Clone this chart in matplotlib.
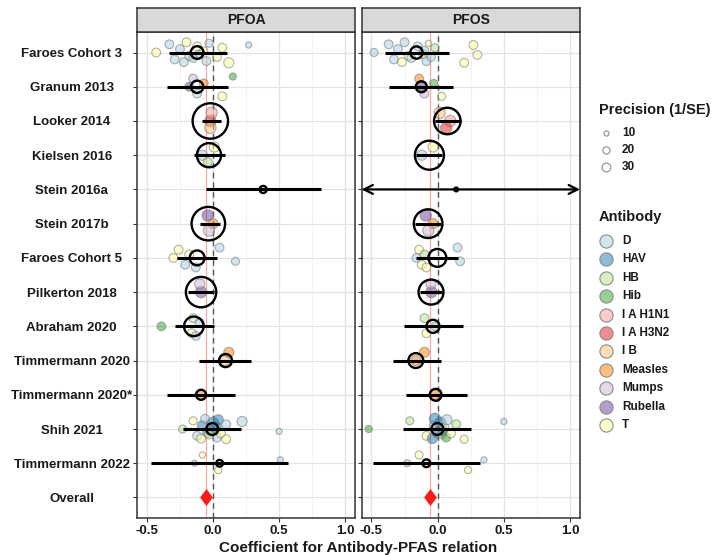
import matplotlib
matplotlib.use("Agg")
import matplotlib.pyplot as plt
from matplotlib.colors import to_rgba

plt.rcParams["font.family"] = ["Liberation Sans", "DejaVu Sans"]
plt.rcParams["font.weight"] = "bold"
plt.rcParams["axes.unicode_minus"] = False

# ---- data -----------------------------------------------------------------
studies = ["Faroes Cohort 3", "Granum 2013", "Looker 2014", "Kielsen 2016",
           "Stein 2016a", "Stein 2017b", "Faroes Cohort 5", "Pilkerton 2018",
           "Abraham 2020", "Timmermann 2020", "Timmermann 2020*", "Shih 2021",
           "Timmermann 2022"]
row_labels = studies + ["Overall"]

antibodies = ["D", "HAV", "HB", "Hib", "I A H1N1", "I A H3N2", "I B",
              "Measles", "Mumps", "Rubella", "T"]
antibody_colors = ["#A6CEE3", "#1F78B4", "#B2DF8A", "#33A02C", "#FB9A99",
                   "#E31A1C", "#FDBF6F", "#FF7F00", "#CAB2D6", "#6A3D9A",
                   "#FFFF99"]
precision_breaks = [10, 20, 30]

# study-level estimates (pooled over antibodies)
pfoa_est = [-0.12, -0.12, -0.02, -0.03, 0.38, -0.035, -0.12, -0.09, -0.145,
            0.095, -0.09, -0.005, 0.05]
pfoa_lo = [-0.335, -0.345, -0.08, -0.14, -0.05, -0.10, -0.275, -0.19, -0.285,
           -0.105, -0.35, -0.23, -0.47]
pfoa_hi = [0.105, 0.11, 0.06, 0.09, 0.82, 0.05, 0.03, 0.01, 0.005, 0.29, 0.17,
           0.21, 0.565]
pfoa_weight = [16, 15, 125, 58, 5, 112, 22, 92, 38, 17, 10, 14, 4.5]
pfoa_overall = -0.05

pfos_est = [-0.16, -0.123, 0.073, -0.062, 0.14, -0.072, -0.002, -0.05, -0.035,
            -0.165, -0.015, -0.002, -0.085]
pfos_lo = [-0.40, -0.368, -0.017, -0.16, -0.9, -0.17, -0.16, -0.13, -0.255,
           -0.34, -0.24, -0.26, -0.486]
pfos_hi = [0.083, 0.116, 0.173, 0.03, 1.3, 0.028, 0.153, 0.035, 0.19, 0.023,
           0.218, 0.253, 0.32]
pfos_weight = [15, 12, 70, 84, 1.4, 82, 32, 62, 17, 22, 14, 14, 6]
pfos_overall = -0.06

# antibody-level estimates: (study, antibody, coefficient, precision 1/SE)
pfoa_points = [
    ("Faroes Cohort 3", "T", -0.43, 30), ("Faroes Cohort 3", "D", -0.33, 30),
    ("Faroes Cohort 3", "D", -0.29, 30), ("Faroes Cohort 3", "D", -0.25, 30),
    ("Faroes Cohort 3", "D", -0.22, 30), ("Faroes Cohort 3", "T", -0.20, 30),
    ("Faroes Cohort 3", "D", -0.18, 30), ("Faroes Cohort 3", "D", -0.15, 30),
    ("Faroes Cohort 3", "T", -0.12, 30), ("Faroes Cohort 3", "D", -0.10, 30),
    ("Faroes Cohort 3", "T", -0.07, 25), ("Faroes Cohort 3", "D", -0.05, 30),
    ("Faroes Cohort 3", "D", -0.03, 25), ("Faroes Cohort 3", "T", 0.03, 30),
    ("Faroes Cohort 3", "T", 0.07, 30), ("Faroes Cohort 3", "T", 0.12, 40),
    ("Faroes Cohort 3", "D", 0.27, 15),
    ("Granum 2013", "Rubella", -0.18, 30), ("Granum 2013", "Mumps", -0.15, 30),
    ("Granum 2013", "D", -0.12, 30), ("Granum 2013", "Measles", -0.07, 30),
    ("Granum 2013", "T", 0.07, 30), ("Granum 2013", "Hib", 0.15, 20),
    ("Looker 2014", "I A H3N2", -0.02, 50), ("Looker 2014", "I A H1N1", -0.01, 50),
    ("Looker 2014", "I B", -0.02, 50),
    ("Kielsen 2016", "D", -0.08, 40), ("Kielsen 2016", "T", 0.01, 40),
    ("Kielsen 2016", "HB", -0.04, 30),
    ("Stein 2017b", "Measles", 0.0, 40), ("Stein 2017b", "Rubella", -0.04, 50),
    ("Stein 2017b", "Mumps", -0.03, 50),
    ("Faroes Cohort 5", "T", -0.30, 30), ("Faroes Cohort 5", "T", -0.26, 30),
    ("Faroes Cohort 5", "D", -0.21, 30), ("Faroes Cohort 5", "T", -0.18, 30),
    ("Faroes Cohort 5", "D", -0.13, 30), ("Faroes Cohort 5", "D", 0.05, 30),
    ("Faroes Cohort 5", "D", 0.17, 25),
    ("Pilkerton 2018", "Rubella", -0.09, 50), ("Pilkerton 2018", "Mumps", -0.10, 40),
    ("Abraham 2020", "Hib", -0.39, 30), ("Abraham 2020", "HB", -0.15, 30),
    ("Abraham 2020", "T", -0.16, 30), ("Abraham 2020", "D", -0.10, 30),
    ("Abraham 2020", "D", -0.13, 30),
    ("Timmermann 2020", "I B", 0.09, 40), ("Timmermann 2020", "Measles", 0.12, 40),
    ("Timmermann 2020*", "Measles", -0.09, 40),
    ("Shih 2021", "HB", -0.23, 25), ("Shih 2021", "T", -0.15, 25),
    ("Shih 2021", "D", -0.12, 30), ("Shih 2021", "HAV", -0.08, 40),
    ("Shih 2021", "T", -0.09, 30), ("Shih 2021", "D", -0.06, 30),
    ("Shih 2021", "HAV", -0.04, 40), ("Shih 2021", "T", -0.03, 30),
    ("Shih 2021", "HAV", 0.0, 50), ("Shih 2021", "HB", -0.02, 30),
    ("Shih 2021", "HAV", 0.02, 50), ("Shih 2021", "D", 0.03, 30),
    ("Shih 2021", "HAV", 0.04, 40), ("Shih 2021", "T", 0.06, 30),
    ("Shih 2021", "D", 0.10, 30), ("Shih 2021", "T", 0.10, 30),
    ("Shih 2021", "D", 0.22, 40), ("Shih 2021", "D", 0.50, 15),
    ("Timmermann 2022", "D", -0.14, 15), ("Timmermann 2022", "T", -0.08, 15),
    ("Timmermann 2022", "T", 0.04, 20), ("Timmermann 2022", "D", 0.51, 15),
]

pfos_points = [
    ("Faroes Cohort 3", "D", -0.48, 25), ("Faroes Cohort 3", "D", -0.37, 30),
    ("Faroes Cohort 3", "D", -0.33, 30), ("Faroes Cohort 3", "D", -0.30, 30),
    ("Faroes Cohort 3", "T", -0.27, 30), ("Faroes Cohort 3", "D", -0.25, 30),
    ("Faroes Cohort 3", "T", -0.22, 30), ("Faroes Cohort 3", "D", -0.20, 30),
    ("Faroes Cohort 3", "D", -0.15, 30), ("Faroes Cohort 3", "T", -0.11, 30),
    ("Faroes Cohort 3", "D", -0.10, 30), ("Faroes Cohort 3", "D", -0.085, 30),
    ("Faroes Cohort 3", "T", -0.07, 15), ("Faroes Cohort 3", "D", -0.05, 30),
    ("Faroes Cohort 3", "HB", -0.02, 25), ("Faroes Cohort 3", "T", 0.20, 30),
    ("Faroes Cohort 3", "T", 0.27, 30), ("Faroes Cohort 3", "T", 0.30, 30),
    ("Granum 2013", "Rubella", -0.12, 30), ("Granum 2013", "Measles", -0.14, 30),
    ("Granum 2013", "Mumps", -0.10, 30), ("Granum 2013", "Hib", -0.03, 25),
    ("Granum 2013", "T", 0.03, 25),
    ("Looker 2014", "I A H1N1", 0.095, 50), ("Looker 2014", "I B", 0.015, 50),
    ("Looker 2014", "I A H3N2", 0.065, 50),
    ("Kielsen 2016", "D", -0.12, 40), ("Kielsen 2016", "T", -0.035, 40),
    ("Stein 2017b", "Measles", -0.035, 40), ("Stein 2017b", "Rubella", -0.09, 50),
    ("Stein 2017b", "Mumps", -0.07, 50),
    ("Faroes Cohort 5", "D", -0.16, 30), ("Faroes Cohort 5", "T", -0.14, 30),
    ("Faroes Cohort 5", "T", -0.12, 30), ("Faroes Cohort 5", "HB", -0.10, 30),
    ("Faroes Cohort 5", "T", -0.085, 30), ("Faroes Cohort 5", "D", 0.15, 30),
    ("Faroes Cohort 5", "D", 0.17, 30),
    ("Pilkerton 2018", "Rubella", -0.047, 50), ("Pilkerton 2018", "Mumps", -0.05, 40),
    ("Abraham 2020", "D", -0.017, 30), ("Abraham 2020", "HB", -0.10, 30),
    ("Abraham 2020", "T", -0.085, 30),
    ("Timmermann 2020", "Measles", -0.165, 40), ("Timmermann 2020", "Measles", -0.10, 40),
    ("Timmermann 2020*", "Measles", -0.015, 40),
    ("Shih 2021", "Hib", -0.52, 20), ("Shih 2021", "HB", -0.21, 25),
    ("Shih 2021", "T", -0.085, 30), ("Shih 2021", "D", -0.03, 30),
    ("Shih 2021", "HAV", -0.04, 40), ("Shih 2021", "HAV", -0.02, 50),
    ("Shih 2021", "HAV", 0.0, 50), ("Shih 2021", "HB", 0.03, 30),
    ("Shih 2021", "HAV", 0.02, 50), ("Shih 2021", "HAV", 0.04, 40),
    ("Shih 2021", "T", 0.05, 30), ("Shih 2021", "Hib", 0.065, 30),
    ("Shih 2021", "D", 0.07, 40), ("Shih 2021", "T", 0.10, 30),
    ("Shih 2021", "HB", 0.14, 30), ("Shih 2021", "T", 0.20, 25),
    ("Shih 2021", "D", 0.50, 15),
    ("Timmermann 2022", "D", -0.23, 20), ("Timmermann 2022", "T", -0.14, 25),
    ("Timmermann 2022", "T", 0.23, 20), ("Timmermann 2022", "D", 0.35, 15),
]

# ---- styling helpers --------------------------------------------------------
W, H = 724, 555
XLIM = (-0.575, 1.075)
YLIM = (len(row_labels) - 0.4, -0.6)
JITTER = [0.0, -0.24, 0.2, -0.1, 0.28, -0.3, 0.1, 0.16, -0.18, 0.05, -0.05,
          0.25, -0.27, 0.13, -0.14, 0.3, -0.22, 0.07]
BORDER = "#333333"
TEXT = "#1a1a1a"
# tall diamond used for the pooled estimate
DIAMOND = [(0, 1), (0.75, 0), (0, -1), (-0.75, 0), (0, 1)]


def point_area(prec):
    # marker area (pt^2) proportional to precision
    return 1.33 * prec


def px_axes(fig, left, top, right, bottom):
    return fig.add_axes([left / W, 1 - bottom / H, (right - left) / W,
                         (bottom - top) / H])


def draw_panel(ax, est, lo, hi, weight, points, overall, show_labels):
    ax.set_xlim(*XLIM)
    ax.set_ylim(*YLIM)
    for v in [-0.5, 0.0, 0.5, 1.0]:
        ax.axvline(v, color="#E3E3E3", lw=0.9, zorder=0)
    for v in [-0.25, 0.25, 0.75]:
        ax.axvline(v, color="#F0F0F0", lw=0.6, zorder=0)
    for i in range(len(row_labels)):
        ax.axhline(i, color="#E3E3E3", lw=0.9, zorder=0)

    ax.axvline(overall, color=(1, 0, 0, 0.35), lw=0.9, zorder=1)
    ax.axvline(0, color="#555555", lw=1.0, ls=(0, (4, 3)), zorder=1)

    # antibody-level points, jittered vertically inside each study row
    counters = {}
    xs, ys, ss, fcs = [], [], [], []
    for study, ab, coef, prec in points:
        k = counters.get(study, 0)
        counters[study] = k + 1
        xs.append(coef)
        ys.append(studies.index(study) + JITTER[k % len(JITTER)])
        ss.append(point_area(prec))
        fcs.append(to_rgba(antibody_colors[antibodies.index(ab)], 0.5))
    ax.scatter(xs, ys, s=ss, facecolors=fcs, edgecolors=(0.45, 0.45, 0.45, 0.55),
               linewidths=0.8, zorder=2)

    # study-level estimates with confidence intervals
    for i, (e, a, b) in enumerate(zip(est, lo, hi)):
        if a < XLIM[0] or b > XLIM[1]:
            ax.annotate("", xy=(min(b, XLIM[1]), i), xytext=(max(a, XLIM[0]), i),
                        arrowprops=dict(arrowstyle="<->", lw=1.6, color="black",
                                        mutation_scale=16, shrinkA=0, shrinkB=0),
                        zorder=3)
        else:
            ax.plot([a, b], [i, i], color="black", lw=2.2, solid_capstyle="butt",
                    zorder=3)
    ax.scatter(est, range(len(est)), s=[5.2 * w for w in weight],
               facecolors="none", edgecolors="black", linewidths=1.7, zorder=4)
    ax.scatter([overall], [len(studies)], marker=DIAMOND, s=150, color="#FF1A1A",
               linewidths=0, zorder=4)

    ax.set_xticks([-0.5, 0.0, 0.5, 1.0])
    ax.set_xticklabels(["-0.5", "0.0", "0.5", "1.0"])
    ax.set_yticks(range(len(row_labels)))
    ax.tick_params(axis="both", colors=BORDER, labelcolor=TEXT, length=3,
                   width=0.8, labelsize=9.5)
    ax.tick_params(axis="x", pad=2)
    if show_labels:
        ax.set_yticklabels(row_labels)
        ax.tick_params(axis="y", pad=44)
        for lab in ax.get_yticklabels():
            lab.set_horizontalalignment("center")
    else:
        ax.set_yticklabels([])
    for sp in ax.spines.values():
        sp.set_color(BORDER)
        sp.set_linewidth(1.1)


def draw_strip(fig, left, right, label):
    sax = px_axes(fig, left, 8, right, 32)
    sax.set_facecolor("#D9D9D9")
    sax.set_xticks([])
    sax.set_yticks([])
    for sp in sax.spines.values():
        sp.set_color(BORDER)
        sp.set_linewidth(1.1)
    sax.text(0.5, 0.5, label, ha="center", va="center", fontsize=10,
             fontweight="bold", color=TEXT, transform=sax.transAxes)


fig = plt.figure(figsize=(W / 100, H / 100), dpi=100)

ax1 = px_axes(fig, 137, 32, 355, 518)
draw_panel(ax1, pfoa_est, pfoa_lo, pfoa_hi, pfoa_weight, pfoa_points,
           pfoa_overall, True)
draw_strip(fig, 137, 355, "PFOA")

ax2 = px_axes(fig, 361.5, 32, 580, 518)
draw_panel(ax2, pfos_est, pfos_lo, pfos_hi, pfos_weight, pfos_points,
           pfos_overall, False)
draw_strip(fig, 361.5, 580, "PFOS")

fig.text(358 / W, 1 - 548 / H, "Coefficient for Antibody-PFAS relation",
         ha="center", va="center", fontsize=11, fontweight="bold", color=TEXT)

# legends, laid out in figure pixels
lax = px_axes(fig, 0, 0, W, H)
lax.set_xlim(0, W)
lax.set_ylim(H, 0)
lax.axis("off")
lax.text(599, 110, "Precision (1/SE)", ha="left", va="center", fontsize=10.5,
         fontweight="bold", color=TEXT)
for i, p in enumerate(precision_breaks):
    y = 133 + 17 * i
    lax.scatter([606], [y], s=point_area(p), facecolors="white",
                edgecolors="#8C8C8C", linewidths=0.8)
    lax.text(622, y, str(p), ha="left", va="center", fontsize=8.5,
             fontweight="bold", color=TEXT)

lax.text(599, 217, "Antibody", ha="left", va="center", fontsize=10.5,
         fontweight="bold", color=TEXT)
for i, (ab, col) in enumerate(zip(antibodies, antibody_colors)):
    y = 241 + 18.4 * i
    lax.scatter([606], [y], s=90, facecolors=[to_rgba(col, 0.5)],
                edgecolors="#8C8C8C", linewidths=0.8)
    lax.text(622, y, ab, ha="left", va="center", fontsize=8.5,
             fontweight="bold", color=TEXT)

fig.savefig("out.png", dpi=100)
plt.close(fig)
